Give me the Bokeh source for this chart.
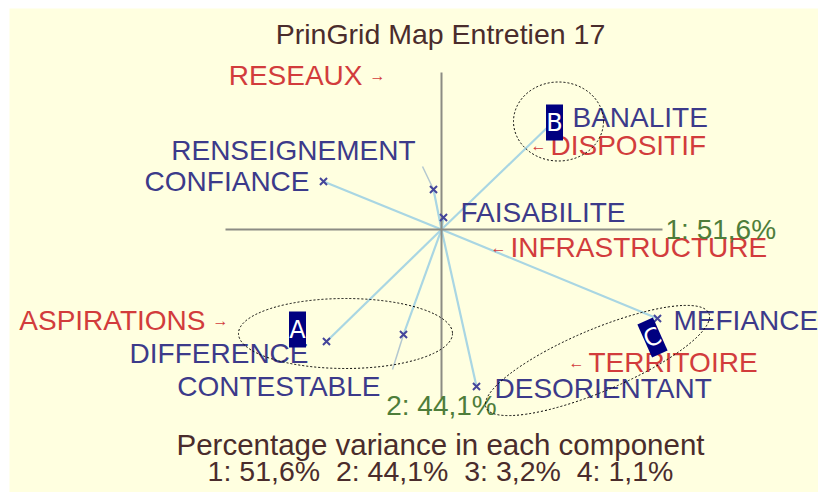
from bokeh.plotting import figure
from bokeh.models import Range1d, Label, ColumnDataSource
from bokeh.core.properties import value
from bokeh.embed import file_html
from bokeh.resources import INLINE

# ---- data (component scores, plot units) ----
elements = ["CONFIANCE", "RENSEIGNEMENT", "FAISABILITE", "BANALITE",
            "MEFIANCE", "DIFFERENCE", "CONTESTABLE", "DESORIENTANT"]
elem_x = [-1.18, -0.08, 0.02, 1.10, 2.16, -1.15, -0.38, 0.35]
elem_y = [0.48, 0.40, 0.12, 1.06, -0.89, -1.12, -1.05, -1.57]

constructs_left = ["DISPOSITIF", "INFRASTRUCTURE", "TERRITOIRE"]
cl_x = [0.89, 0.49, 1.27]
cl_y = [0.84, -0.18, -1.33]
constructs_right = ["RESEAUX", "ASPIRATIONS"]
cr_x = [-0.56, -2.13]
cr_y = [1.54, -0.91]

axis1_label = "1: 51,6%"
axis2_label = "2: 44,1%"
axis1_extent = [-2.16, 2.21]
axis2_extent = [-1.69, 1.57]

clusters = ["A", "B", "C"]
cluster_x = [-0.96, 1.17, 1.56]
cluster_y = [-1.04, 1.08, -1.31]
cluster_w = [2.14, 0.90, 2.42]
cluster_h = [0.70, 0.79, 0.62]
cluster_angle = [0.0, 0.0, 0.40]
badge_x = [-1.44, 1.13, 2.11]
badge_y = [-1.00, 1.07, -1.08]
badge_angle = [0.0, 0.0, 0.42]

title = "PrinGrid Map Entretien 17"
footer1 = "Percentage variance in each component"
footer2 = "1: 51,6%\u00a0\u00a02: 44,1%\u00a0\u00a03: 3,2%\u00a0\u00a04: 1,1%"

# ---- styles ----
FONT = "Liberation Sans"
BG = "#FFFFE0"
BLUE_TXT = "#3C3A8A"
RED_TXT = "#D23C3C"
GREEN_TXT = "#4E7D3A"
TITLE_TXT = "#4A2C2C"
RAY = "#A9D6E3"
AXIS = "#8C8C84"
LBL = "28px"

# label offsets (px) and alignments, per element
elem_xoff = [-14, -18, 17, 21, 16, -18, -23, 18]
elem_yoff = [0, -39, -5, -6, 2, 12, 52, 2]
elem_align = ["right", "right", "left", "left", "left", "right", "right", "left"]
leaders = {1: (-11, -23), 6: (-11, 35)}  # element index -> leader end offset px

p = figure(width=818, height=492, output_backend="svg", toolbar_location=None,
           x_range=Range1d(-4.32, 3.77), y_range=Range1d(-2.63, 2.21),
           x_axis_location=None, y_axis_location=None,
           min_border_left=9, min_border_top=8, min_border_right=0,
           min_border_bottom=0)
p.grid.visible = False
p.outline_line_color = None
p.background_fill_color = BG
p.border_fill_color = "white"

# rays from origin
p.segment(x0=[0] * len(elem_x), y0=[0] * len(elem_y), x1=elem_x, y1=elem_y,
          line_color=RAY, line_width=2.2)

# axes
p.segment(x0=[axis1_extent[0]], y0=[0], x1=[axis1_extent[1]], y1=[0],
          line_color=AXIS, line_width=2)
p.segment(x0=[0], y0=[axis2_extent[0]], x1=[0], y1=[axis2_extent[1]],
          line_color=AXIS, line_width=2)

# leader lines
lx0, ly0, lx1, ly1 = [], [], [], []
for i, (dx, dy) in leaders.items():
    lx0.append(elem_x[i]); ly0.append(elem_y[i])
    lx1.append(elem_x[i] + dx / 100.0); ly1.append(elem_y[i] - dy / 100.0)
p.segment(x0=lx0, y0=ly0, x1=lx1, y1=ly1, line_color="#B4C8D0", line_width=1.5)

# markers
p.scatter(elem_x, elem_y, marker="x", size=10, line_color="#45459A", line_width=2)

# element labels
src = ColumnDataSource(dict(x=elem_x, y=elem_y, t=elements, xo=elem_xoff,
                            yo=elem_yoff, al=elem_align))
p.text(x="x", y="y", text="t", x_offset="xo", y_offset="yo", text_align="al",
       source=src, text_baseline="middle", text_color=BLUE_TXT,
       text_font=value(FONT), text_font_size=LBL)

# construct labels with arrows
p.text(x=cl_x, y=cl_y, text=["\u2190"] * len(cl_x), text_align="left",
       text_baseline="middle", text_color=RED_TXT, text_font=value(FONT),
       text_font_size="16px")
p.text(x=cl_x, y=cl_y, text=constructs_left, x_offset=20, text_align="left",
       text_baseline="middle", text_color=RED_TXT, text_font=value(FONT),
       text_font_size=LBL)
p.text(x=cr_x, y=cr_y, text=["\u2192"] * len(cr_x), text_align="right",
       text_baseline="middle", text_color=RED_TXT, text_font=value(FONT),
       text_font_size="16px")
p.text(x=cr_x, y=cr_y, text=constructs_right, x_offset=-23, text_align="right",
       text_baseline="middle", text_color=RED_TXT, text_font=value(FONT),
       text_font_size=LBL)

# axis labels
p.text(x=[axis1_extent[1]], y=[0], text=[axis1_label], x_offset=3,
       text_align="left", text_baseline="middle", text_color=GREEN_TXT,
       text_font=value(FONT), text_font_size=LBL)
p.text(x=[0], y=[axis2_extent[0]], text=[axis2_label], y_offset=7,
       text_align="center", text_baseline="middle", text_color=GREEN_TXT,
       text_font=value(FONT), text_font_size=LBL)

# cluster ellipses
p.ellipse(x=cluster_x, y=cluster_y, width=cluster_w, height=cluster_h,
          angle=cluster_angle, fill_color=None, line_color="black",
          line_dash="2 2", line_width=1)

# badges
p.rect(x=badge_x, y=badge_y, width=0.17, height=0.36, angle=badge_angle,
       fill_color="#000080", line_color=None)
p.text(x=badge_x, y=badge_y, text=clusters, angle=badge_angle,
       text_align="center", text_baseline="middle", text_color="white",
       text_font=value("DejaVu Sans"), text_font_size="24px")

# title and footer
p.add_layout(Label(x=-0.01, y=1.96, text=title, text_align="center",
                   text_baseline="middle", text_color=TITLE_TXT,
                   text_font=FONT, text_font_size="28.5px"))
p.add_layout(Label(x=-0.01, y=-2.15, text=footer1, text_align="center",
                   text_baseline="middle", text_color=TITLE_TXT,
                   text_font=FONT, text_font_size="29.5px"))
p.add_layout(Label(x=-0.01, y=-2.41, text=footer2, text_align="center",
                   text_baseline="middle", text_color=TITLE_TXT,
                   text_font=FONT, text_font_size="28.5px"))

open("out.html", "w").write(file_html(p, INLINE))
